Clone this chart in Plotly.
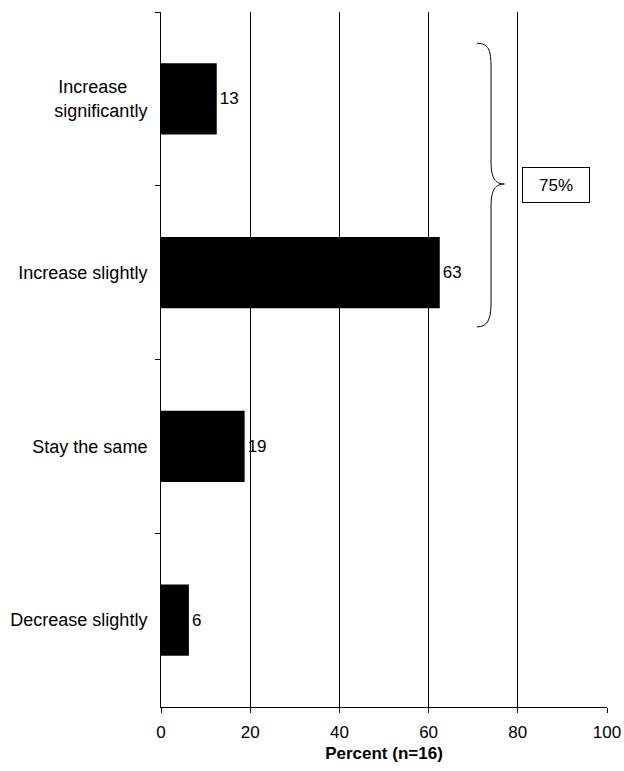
import plotly.graph_objects as go

# data (n=16 respondents)
categories = ["Increase" + "&nbsp;" * 4 + "<br>significantly", "Increase slightly",
              "Stay the same", "Decrease slightly"]
percent = [12.5, 62.5, 18.75, 6.25]
labels = ["13", "63", "19", "6"]
group_total = "75%"
x_ticks = [0, 20, 40, 60, 80, 100]

FONT = "Liberation Sans, Arial, sans-serif"

fig = go.Figure()
fig.add_trace(go.Bar(
    y=categories, x=percent, orientation="h",
    marker=dict(color="black", line=dict(width=0)),
    text=labels, textposition="outside", cliponaxis=False,
    textfont=dict(size=17, color="black", family=FONT),
))

# curly brace around the two "increase" bars (x in data, y in paper)
brace = ("M 70.8,0.955 C 73.5,0.955 74.0,0.945 74.0,0.92 "
         "L 74.0,0.785 C 74.0,0.76 75.0,0.7525 77.0,0.7525 "
         "C 75.0,0.7525 74.0,0.745 74.0,0.72 "
         "L 74.0,0.585 C 74.0,0.56 73.5,0.547 70.8,0.547")
fig.add_shape(type="path", path=brace, xref="x", yref="paper",
              line=dict(color="black", width=1))

fig.add_annotation(x=88.6, y=0.751, xref="x", yref="paper",
                   xanchor="center", yanchor="middle",
                   text=group_total, showarrow=False,
                   font=dict(size=17, color="black", family=FONT),
                   bordercolor="black", borderwidth=1, borderpad=4,
                   width=58, height=26, align="center")

fig.update_layout(
    width=624, height=771,
    margin=dict(l=161, r=17, t=12, b=64),
    plot_bgcolor="white", paper_bgcolor="white",
    font=dict(family=FONT, size=17, color="black"),
    showlegend=False,
    bargap=0.59,
)
fig.update_xaxes(
    range=[0, 100], tickvals=x_ticks, automargin=False,
    showgrid=True, gridcolor="black", gridwidth=1,
    showline=True, linecolor="black", linewidth=1,
    ticks="outside", ticklen=5, tickcolor="black",
    zeroline=False, tickfont=dict(size=17), ticklabelstandoff=5,
    title=dict(text="<b>Percent (n=16)</b>", font=dict(size=17), standoff=5),
)
fig.update_yaxes(
    autorange="reversed", tickson="boundaries", automargin=False,
    showline=True, linecolor="black", linewidth=1,
    ticks="outside", ticklen=5, tickcolor="black",
    ticklabelstandoff=9, tickfont=dict(size=18),
    showgrid=False,
)

# drop the default 8px page margin so the figure fills the window
fig.write_html("out.html", config={"displayModeBar": False},
               post_script="document.body.style.margin='0';")
